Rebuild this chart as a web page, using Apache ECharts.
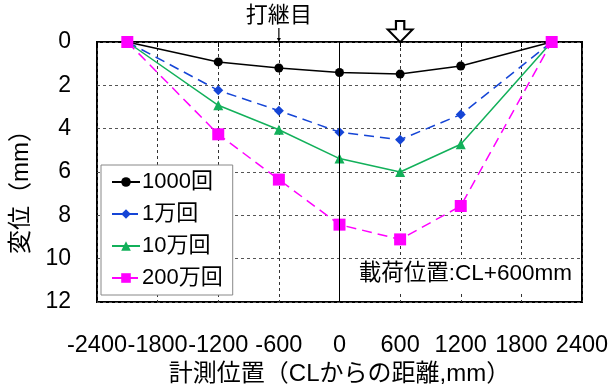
<!DOCTYPE html>
<html><head><meta charset="utf-8">
<script src="https://cdn.jsdelivr.net/npm/echarts@6/dist/echarts.min.js"></script>
<style>html,body{margin:0;padding:0;background:#fff}#c{width:612px;height:387px}</style>
</head><body><div id="c"></div>
<script>
const positions = [-2100, -1200, -600, 0, 600, 1200, 2100];
const s1000 = [0, 0.92, 1.20, 1.41, 1.48, 1.11, 0];
const s1man = [0, 2.23, 3.17, 4.16, 4.51, 3.35, 0];
const s10man = [0, 2.92, 4.05, 5.38, 6.00, 4.72, 0];
const s200man = [0, 4.26, 6.35, 8.43, 9.11, 7.57, 0];
const seriesNames = ['1000回', '1万回', '10万回', '200万回'];
const xTitle = '計測位置（CLからの距離,mm）';
const yTitle = '変位（mm）';
const loadNote = '載荷位置:CL+600mm';
const jointLabel = '打継目';
const jointX = -600;
const loadX = 600;

const FONT = "'Liberation Sans', Arial, 'Noto Sans CJK JP', sans-serif";
const pair = arr => positions.map((x, i) => [x, arr[i]]);

const chart = echarts.init(document.getElementById('c'), null, {renderer: 'canvas'});
const base = (name, data, color, symbol, size, dash) => ({
  name, type: 'line', data: pair(data), symbol, symbolSize: size,
  showSymbol: true, clip: false,
  itemStyle: {color},
  lineStyle: {color, width: 1.5, type: dash},
  z: 3
});

const s1 = base(seriesNames[0], s1000, '#000000', 'circle', 9, 'solid');
s1.markLine = {
  silent: true, symbol: 'none', label: {show: false},
  lineStyle: {color: '#000', width: 1, type: 'solid'},
  data: [{xAxis: 0}]
};
s1.markPoint = {
  silent: true,
  data: [
    {coord: [jointX, 0], symbol: 'path://M-0.6,0 L0.6,0 L0.6,10 L2,10 L0,14 L-2,10 L-0.6,10 Z',
     symbolSize: [4, 14], symbolOffset: [0, '-50%'], itemStyle: {color: '#000'},
     label: {show: true, position: 'top', distance: 1, formatter: jointLabel, color: '#000', fontSize: 22, fontFamily: FONT}},
    {coord: [loadX, 0], symbol: 'path://M-4,0 L4,0 L4,8 L12,8 L0,20 L-12,8 L-4,8 Z',
     symbolSize: [25, 21], symbolOffset: [0, '-50%'],
     itemStyle: {color: '#fff', borderColor: '#000', borderWidth: 2},
     label: {show: false}}
  ]
};
const s2 = base(seriesNames[1], s1man, '#1545d6', 'diamond', 10, [10, 6]);
const s3 = base(seriesNames[2], s10man, '#12b05a', 'triangle', 10, 'solid');
const s4 = base(seriesNames[3], s200man, '#ff00ff', 'rect', 12, [10, 6]);

const option = {
  backgroundColor: '#fff',
  animation: false,
  textStyle: {fontFamily: FONT, color: '#000'},
  grid: {left: 97, right: 30, top: 42, bottom: 85, show: true, borderColor: '#000', borderWidth: 2,
         backgroundColor: 'transparent', containLabel: false, outerBoundsMode: 'none'},
  xAxis: [{
    type: 'value', min: -2400, max: 2400, interval: 600, position: 'bottom',
    name: xTitle, nameLocation: 'middle', nameGap: 60,
    nameTextStyle: {fontSize: 24, color: '#000', fontFamily: FONT},
    axisLine: {show: false}, axisTick: {show: false},
    axisLabel: {fontSize: 23.5, color: '#000', margin: 32, fontFamily: FONT,
                showMinLabel: true, showMaxLabel: true, hideOverlap: false,
                formatter: v => String(v)},
    splitLine: {show: true, lineStyle: {color: '#333', type: [3, 3], width: 1}}
  }, {
    type: 'value', min: -2400, max: 2400, interval: 600, position: 'top',
    axisLine: {show: false}, axisLabel: {show: false},
    axisTick: {show: true, inside: true, length: 5, lineStyle: {color: '#000'}},
    splitLine: {show: false}
  }],
  yAxis: {
    type: 'value', min: 0, max: 12, interval: 2, inverse: true,
    name: yTitle, nameLocation: 'middle', nameGap: 64, nameRotate: 90,
    nameTextStyle: {fontSize: 24, color: '#000', fontFamily: FONT, padding: [0, 28, 0, 0]},
    axisLine: {show: false}, axisTick: {show: false},
    axisLabel: {fontSize: 23, color: '#000', margin: 26, fontFamily: FONT,
                showMinLabel: true, showMaxLabel: true},
    splitLine: {show: true, lineStyle: {color: '#555', type: [3, 3], width: 1}}
  },
  legend: {
    orient: 'vertical', left: 101, top: 165,
    data: seriesNames,
    itemWidth: 28, itemHeight: 12, itemGap: 10,
    padding: [6, 10, 6, 10],
    backgroundColor: '#fff', borderColor: '#888', borderWidth: 1,
    textStyle: {fontSize: 22, lineHeight: 22, color: '#000', fontFamily: FONT, padding: [0, 0, 0, -3]}
  },
  title: {
    text: loadNote, right: 34, top: 259,
    backgroundColor: '#fff', padding: [4, 6, 6, 6],
    textStyle: {fontSize: 22.5, fontWeight: 'normal', color: '#000', fontFamily: FONT}
  },
  series: [s1, s2, s3, s4]
};
chart.setOption(option);
</script>
</body></html>
